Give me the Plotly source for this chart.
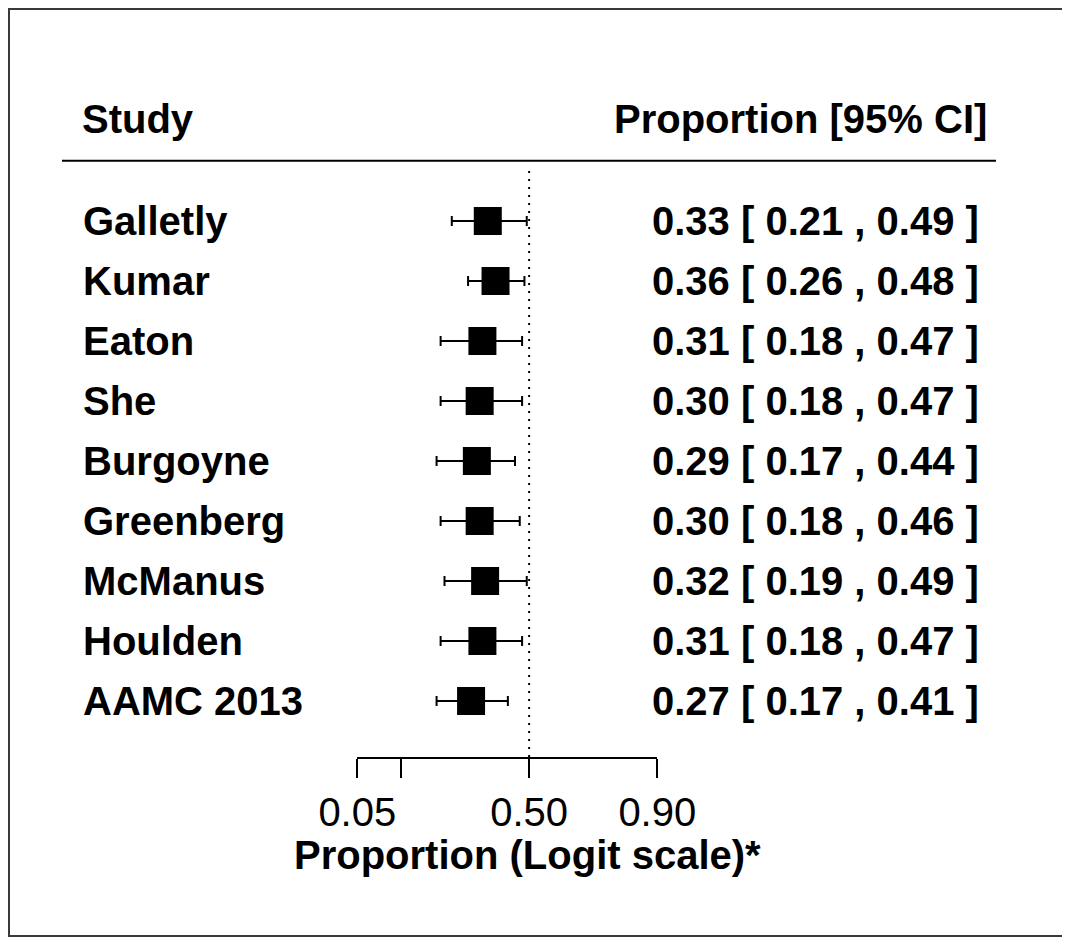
import numpy as np
import plotly.graph_objects as go

studies = ["Galletly", "Kumar", "Eaton", "She", "Burgoyne", "Greenberg",
           "McManus", "Houlden", "AAMC 2013"]
prop = [0.33, 0.36, 0.31, 0.30, 0.29, 0.30, 0.32, 0.31, 0.27]
lower = [0.21, 0.26, 0.18, 0.18, 0.17, 0.18, 0.19, 0.18, 0.17]
upper = [0.49, 0.48, 0.47, 0.47, 0.44, 0.46, 0.49, 0.47, 0.41]
tick_props = [0.05, 0.10, 0.50, 0.90]
tick_labels = ["0.05", "", "0.50", "0.90"]
ref_prop = 0.5

OFF = 8  # page body margin
W, H = 1070 - OFF, 938 - OFF
FONT = "Arial, Liberation Sans, sans-serif"
FS = 40


def logit(p):
    p = np.asarray(p, dtype=float)
    return np.log(p / (1 - p))


def xp(px):
    return (px - OFF) / W


def yp(py):
    return 1 - (py - OFF) / H


x = logit(prop)
xl = logit(lower)
xu = logit(upper)
rows = list(range(len(studies)))

fig = go.Figure()
fig.add_trace(go.Scatter(
    x=x, y=rows, mode="markers",
    marker=dict(symbol="square", size=28, color="black", line=dict(width=0)),
    error_x=dict(type="data", symmetric=False, array=xu - x, arrayminus=x - xl,
                 color="black", thickness=2, width=5),
    showlegend=False, hoverinfo="skip", cliponaxis=False,
))

# layout geometry (page pixels)
ax_left, ax_right, ax_y = 357.3, 657.3, 757
row0_px, row_step = 221, 60

annotations = []
for i, s in enumerate(studies):
    annotations.append(dict(x=xp(81), xref="paper", y=i, yref="y", text=f"<b>{s}</b>",
                            showarrow=False, xanchor="left", yanchor="middle",
                            font=dict(family=FONT, size=FS, color="black")))
    annotations.append(dict(x=xp(981), xref="paper", y=i, yref="y",
                            text=f"<b>{prop[i]:.2f} [ {lower[i]:.2f} , {upper[i]:.2f} ]</b>",
                            showarrow=False, xanchor="right", yanchor="middle",
                            font=dict(family=FONT, size=FS, color="black")))
annotations.append(dict(x=xp(80), xref="paper", y=yp(119), yref="paper", text="<b>Study</b>",
                        showarrow=False, xanchor="left", yanchor="middle",
                        font=dict(family=FONT, size=FS, color="black")))
annotations.append(dict(x=xp(989), xref="paper", y=yp(119), yref="paper",
                        text="<b>Proportion [95% CI]</b>",
                        showarrow=False, xanchor="right", yanchor="middle",
                        font=dict(family=FONT, size=FS, color="black")))
annotations.append(dict(x=xp(527), xref="paper", y=yp(855), yref="paper",
                        text="<b>Proportion (Logit scale)*</b>",
                        showarrow=False, xanchor="center", yanchor="middle",
                        font=dict(family=FONT, size=FS, color="black")))

shapes = [
    dict(type="rect", xref="paper", yref="paper", x0=xp(9), x1=xp(1067),
         y0=yp(936), y1=yp(9), line=dict(color="#3a3a3a", width=2)),
    dict(type="line", xref="paper", yref="paper", x0=xp(62), x1=xp(996),
         y0=yp(160.7), y1=yp(160.7), line=dict(color="black", width=2)),
    dict(type="line", xref="x", yref="paper", x0=float(logit(ref_prop)), x1=float(logit(ref_prop)),
         y0=yp(ax_y), y1=yp(166), line=dict(color="black", width=2, dash="2px,6px")),
]

xr = [float(logit(tick_props[0])), float(logit(tick_props[-1]))]
fig.update_layout(
    width=W, height=H, autosize=False,
    margin=dict(l=0, r=0, t=0, b=0, pad=0, autoexpand=False),
    paper_bgcolor="white", plot_bgcolor="rgba(0,0,0,0)",
    xaxis=dict(domain=[xp(ax_left), xp(ax_right)], range=xr,
               anchor="y", side="bottom", automargin=False,
               showline=True, linecolor="black", linewidth=2,
               ticks="outside", ticklen=19, tickwidth=2, tickcolor="black",
               tickvals=list(logit(tick_props)), ticktext=tick_labels,
               tickfont=dict(family=FONT, size=FS, color="black"),
               showgrid=False, zeroline=False, fixedrange=True),
    yaxis=dict(domain=[yp(ax_y), 1], automargin=False,
               range=[(ax_y - row0_px) / row_step, -(row0_px - OFF) / row_step],
               visible=False, showgrid=False, zeroline=False, fixedrange=True),
    annotations=annotations, shapes=shapes,
    font=dict(family=FONT),
)

fig.write_html("out.html")
